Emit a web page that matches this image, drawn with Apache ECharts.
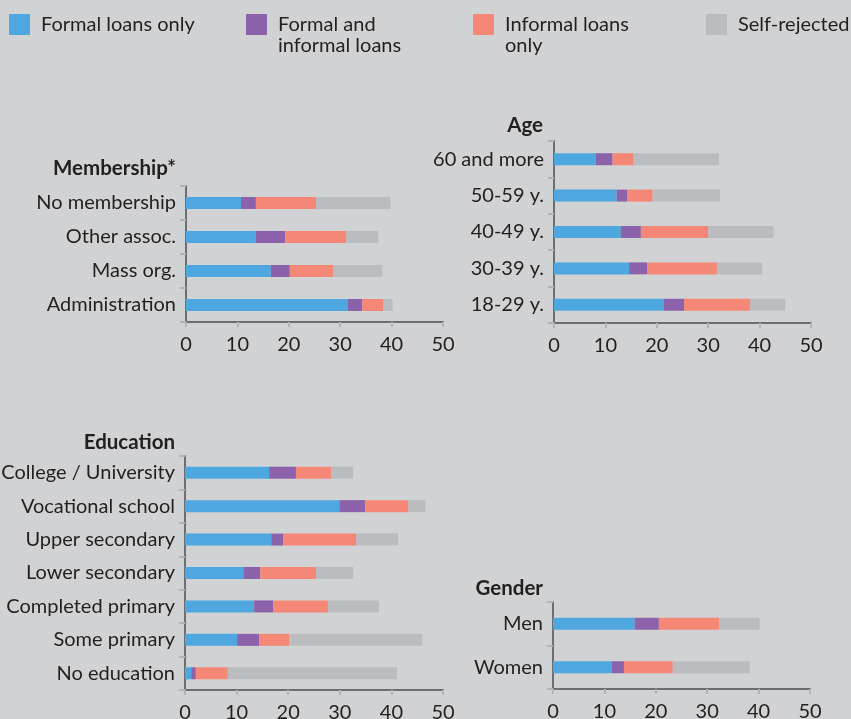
<!DOCTYPE html>
<html><head><meta charset="utf-8">
<script src="https://cdn.jsdelivr.net/npm/echarts@6/dist/echarts.min.js"></script>
<style>html,body{margin:0;padding:0;background:#d1d2d4;}#c{width:851px;height:719px;}</style>
</head><body><div id="c"></div>
<script>
// ---- data ----
const seriesNames = ['Formal loans only', 'Formal and informal loans', 'Informal loans only', 'Self-rejected'];
const legendLabels = ['Formal loans only', '\nFormal and\ninformal loans', '\nInformal loans\nonly', 'Self-rejected'];
const xTicks = [0, 10, 20, 30, 40, 50];

const memTitle = 'Membership*';
const memCats = ['No membership', 'Other assoc.', 'Mass org.', 'Administration'];
const memFormal = [10.7, 13.6, 16.5, 31.4];
const memBoth = [2.9, 5.7, 3.7, 2.9];
const memInformal = [11.7, 11.9, 8.4, 4.1];
const memSelf = [14.5, 6.2, 9.6, 1.8];

const ageTitle = 'Age';
const ageCats = ['60 and more', '50-59 y.', '40-49 y.', '30-39 y.', '18-29 y.'];
const ageFormal = [8.1, 12.2, 13.0, 14.6, 21.4];
const ageBoth = [3.3, 2.0, 3.9, 3.5, 3.9];
const ageInformal = [4.1, 5.0, 13.1, 13.6, 12.9];
const ageSelf = [16.6, 13.1, 12.7, 8.8, 6.8];

const eduTitle = 'Education';
const eduCats = ['College / University', 'Vocational school', 'Upper secondary', 'Lower secondary', 'Completed primary', 'Some primary', 'No education'];
const eduFormal = [16.3, 29.9, 16.7, 11.3, 13.4, 10.1, 1.2];
const eduBoth = [5.2, 5.0, 2.3, 3.3, 3.7, 4.3, 0.9];
const eduInformal = [6.8, 8.4, 14.2, 10.8, 10.6, 5.8, 6.2];
const eduSelf = [4.3, 3.3, 8.1, 7.2, 9.9, 25.8, 32.8];

const genTitle = 'Gender';
const genCats = ['Men', 'Women'];
const genFormal = [15.9, 11.4];
const genBoth = [4.7, 2.4];
const genInformal = [11.7, 9.5];
const genSelf = [7.9, 15.0];

// ---- style / layout ----
const colors = ['#4ea7de', '#8c62aa', '#f58777', '#bbbcbf'];
const FONT = 'Lato';
const TXT = '#231f20';
const AXIS = '#6d6e71';
const TICK = '#b3b4b6';

const panels = [
  { title: memTitle, cats: memCats, vals: [memFormal, memBoth, memInformal, memSelf],
    grid: { left: 186, top: 186, width: 257, height: 136 }, titlePos: { right: 675, top: 158 } },
  { title: ageTitle, cats: ageCats, vals: [ageFormal, ageBoth, ageInformal, ageSelf],
    grid: { left: 554, top: 141, width: 257, height: 182 }, titlePos: { right: 308, top: 115 } },
  { title: eduTitle, cats: eduCats, vals: [eduFormal, eduBoth, eduInformal, eduSelf],
    grid: { left: 185, top: 456, width: 258, height: 234 }, titlePos: { right: 676, top: 432 } },
  { title: genTitle, cats: genCats, vals: [genFormal, genBoth, genInformal, genSelf],
    grid: { left: 553, top: 602, width: 257, height: 87 }, titlePos: { right: 308, top: 578 } }
];

const legendPos = [
  { left: 9, top: 14 },
  { left: 246, top: -7 },
  { left: 473, top: -7 },
  { left: 706, top: 14 }
];

const option = {
  backgroundColor: '#d1d2d4',
  animation: false,
  textStyle: { fontFamily: FONT },
  title: panels.map(p => ({
    text: p.title, right: p.titlePos.right, top: p.titlePos.top, padding: 0,
    textStyle: { fontFamily: FONT, fontSize: 20.5, fontWeight: 'bold', color: TXT }
  })),
  legend: seriesNames.map((n, i) => ({
    data: [n], left: legendPos[i].left, top: legendPos[i].top, padding: 0,
    itemWidth: 21, itemHeight: 21, icon: 'rect', selectedMode: false,
    formatter: () => legendLabels[i],
    textStyle: { fontFamily: FONT, fontSize: 20, color: TXT, lineHeight: 21, padding: [0, 0, 0, 6] }
  })),
  grid: panels.map(p => Object.assign({ containLabel: false, outerBoundsMode: 'none' }, p.grid)),
  xAxis: panels.map((p, i) => ({
    type: 'value', gridIndex: i, min: xTicks[0], max: xTicks[xTicks.length - 1], interval: 10,
    splitLine: { show: false },
    axisLine: { show: true, lineStyle: { color: AXIS, width: 2 } },
    axisTick: { show: true, length: 5, lineStyle: { color: TICK, width: 2 } },
    axisLabel: { fontFamily: FONT, fontSize: 20, color: TXT, margin: 13 }
  })),
  yAxis: panels.map((p, i) => ({
    type: 'category', gridIndex: i, data: p.cats, inverse: true,
    axisLine: { show: true, lineStyle: { color: AXIS, width: 2 } },
    axisTick: { show: true, length: 6, lineStyle: { color: TICK, width: 2 } },
    axisLabel: { fontFamily: FONT, fontSize: 20, color: TXT, margin: 10 }
  })),
  series: []
};

panels.forEach((p, i) => {
  p.vals.forEach((v, k) => {
    option.series.push({
      type: 'bar', name: seriesNames[k], xAxisIndex: i, yAxisIndex: i,
      stack: 'p' + i, barWidth: 12, data: v,
      itemStyle: { color: colors[k] }
    });
  });
});

const chart = echarts.init(document.getElementById('c'), null, { renderer: 'canvas' });
chart.setOption(option);
</script>
</body></html>
